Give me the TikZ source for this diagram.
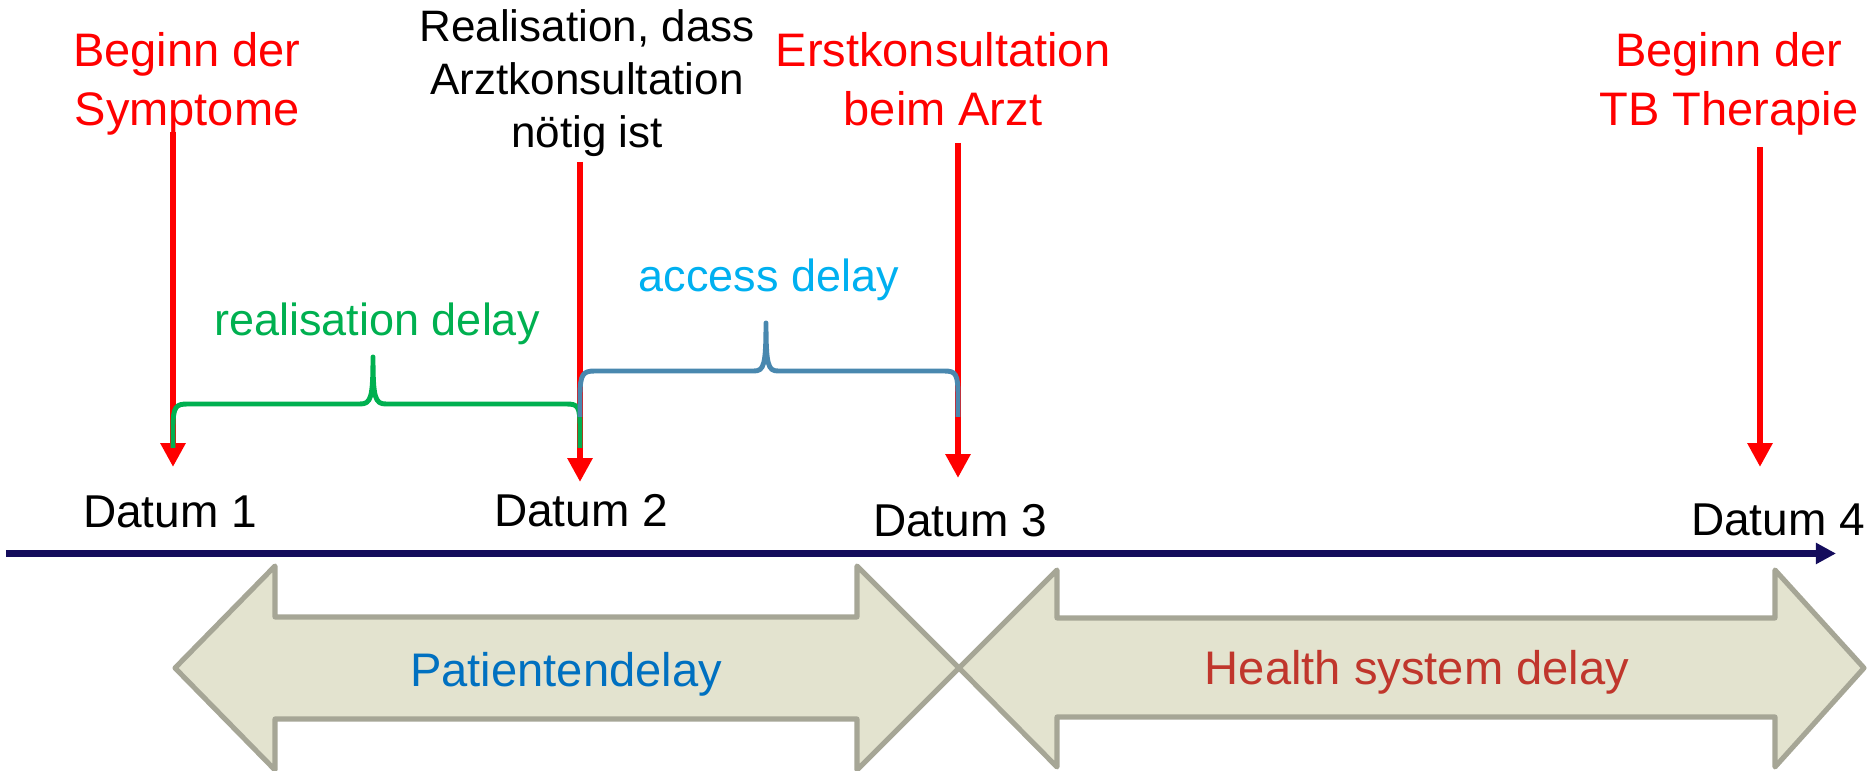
\documentclass[tikz,border=0pt]{standalone}
\usepackage{fontspec}
\setmainfont{Liberation Sans}
\usetikzlibrary{arrows.meta}

\definecolor{evred}{RGB}{255,0,0}
\definecolor{brgreen}{RGB}{0,176,80}
\definecolor{accblue}{RGB}{0,176,240}
\definecolor{brblue}{RGB}{73,136,175}
\definecolor{axisnavy}{RGB}{20,12,92}
\definecolor{bandfill}{RGB}{227,227,207}
\definecolor{banddraw}{RGB}{166,166,150}
\definecolor{patblue}{RGB}{0,112,192}
\definecolor{hsred}{RGB}{192,54,44}

\newcommand{\twolines}[2]{\begin{tabular}[t]{@{}c@{}}#1\\#2\end{tabular}}
\newcommand{\threelines}[3]{\begin{tabular}[t]{@{}c@{}}#1\\#2\\#3\end{tabular}}

\tikzset{
  lbl/.style={inner sep=0pt, anchor=base},
  evtext/.style={lbl, text=evred, font=\fontsize{13.37}{16.5}\selectfont},
  notetext/.style={lbl, text=black, font=\fontsize{12.52}{14.94}\selectfont},
  delaytext/.style={lbl, font=\fontsize{12.8}{15}\selectfont},
  datetext/.style={lbl, text=black, font=\fontsize{13.09}{15}\selectfont},
  bandtext/.style={lbl, font=\fontsize{13.4}{16}\selectfont},
  evarrow/.style={draw=evred, line width=1.95pt,
    -{Triangle[width=6.8pt,length=6.8pt]}},
  brace/.style={line width=1.4pt, line cap=butt, line join=round},
  axis/.style={draw=axisnavy, line width=1.95pt,
    -{Triangle[width=5.7pt,length=5.7pt]}},
  band/.style={fill=bandfill, draw=banddraw, line width=1.45pt, line join=round},
}

\begin{document}
\begin{tikzpicture}[x=0.01cm, y=-0.01cm]
\useasboundingbox (0,0) rectangle (1868,771);

% event labels
\node[evtext] (ev1) at (187,67) {\twolines{Beginn der}{Symptome}};
\node[notetext] (ev2) at (587,42) {\threelines{Realisation, dass}{Arztkonsultation}{nötig ist}};
\node[evtext] (ev3) at (943,67) {\twolines{Erstkonsultation}{beim Arzt}};
\node[evtext] (ev4) at (1729,67) {\twolines{Beginn der}{TB Therapie}};

% event arrows
\coordinate (s1) at (173,132); \coordinate (t1) at (173,467);
\coordinate (s2) at (580,162); \coordinate (t2) at (580,482);
\coordinate (s3) at (958,143); \coordinate (t3) at (958,478);
\coordinate (s4) at (1760,147); \coordinate (t4) at (1760,467);
\draw[evarrow] (s1) -- (t1);
\draw[evarrow] (s2) -- (t2);
\draw[evarrow] (s3) -- (t3);
\draw[evarrow] (s4) -- (t4);

% braces
\draw[brace, brgreen] (173,448) -- (173,428)
  .. controls (173,406) and (176,404) .. (188,404) -- (360,404)
  .. controls (371,404) and (373,398) .. (373,357)
  .. controls (373,398) and (375,404) .. (386,404) -- (566,404)
  .. controls (578,404) and (580,406) .. (580,428) -- (580,448);
\draw[brace, brblue] (580,417) -- (580,396)
  .. controls (580,374) and (583,371) .. (595,371) -- (754,371)
  .. controls (764,371) and (766,365) .. (766,323)
  .. controls (766,365) and (768,371) .. (778,371) -- (944,371)
  .. controls (956,371) and (958,374) .. (958,396) -- (958,417);

\node[delaytext, text=brgreen] (rd) at (377,336) {realisation delay};
\node[delaytext, text=accblue] (ad) at (769,292) {access delay};

% dates
\node[datetext] (d1) at (170,528) {Datum 1};
\node[datetext] (d2) at (581,527) {Datum 2};
\node[datetext] (d3) at (960,537) {Datum 3};
\node[datetext] (d4) at (1778,536) {Datum 4};

% time axis
\coordinate (ax0) at (6,553.5);
\coordinate (ax1) at (1836,553.5);
\draw[axis] (ax0) -- (ax1);

% delay bands
\draw[band] (175,668) -- (275,566) -- (275,617) -- (857,617) -- (857,566)
  -- (959,668) -- (857,770) -- (857,719) -- (275,719) -- (275,770) -- cycle;
\draw[band] (959,668) -- (1057,570) -- (1057,618) -- (1775,618) -- (1775,570)
  -- (1864,668) -- (1775,767) -- (1775,717) -- (1057,717) -- (1057,767) -- cycle;

\node[bandtext, text=patblue] (pd) at (566,687) {Patientendelay};
\node[bandtext, text=hsred] (hd) at (1417,685) {Health system delay};
\end{tikzpicture}
\end{document}
